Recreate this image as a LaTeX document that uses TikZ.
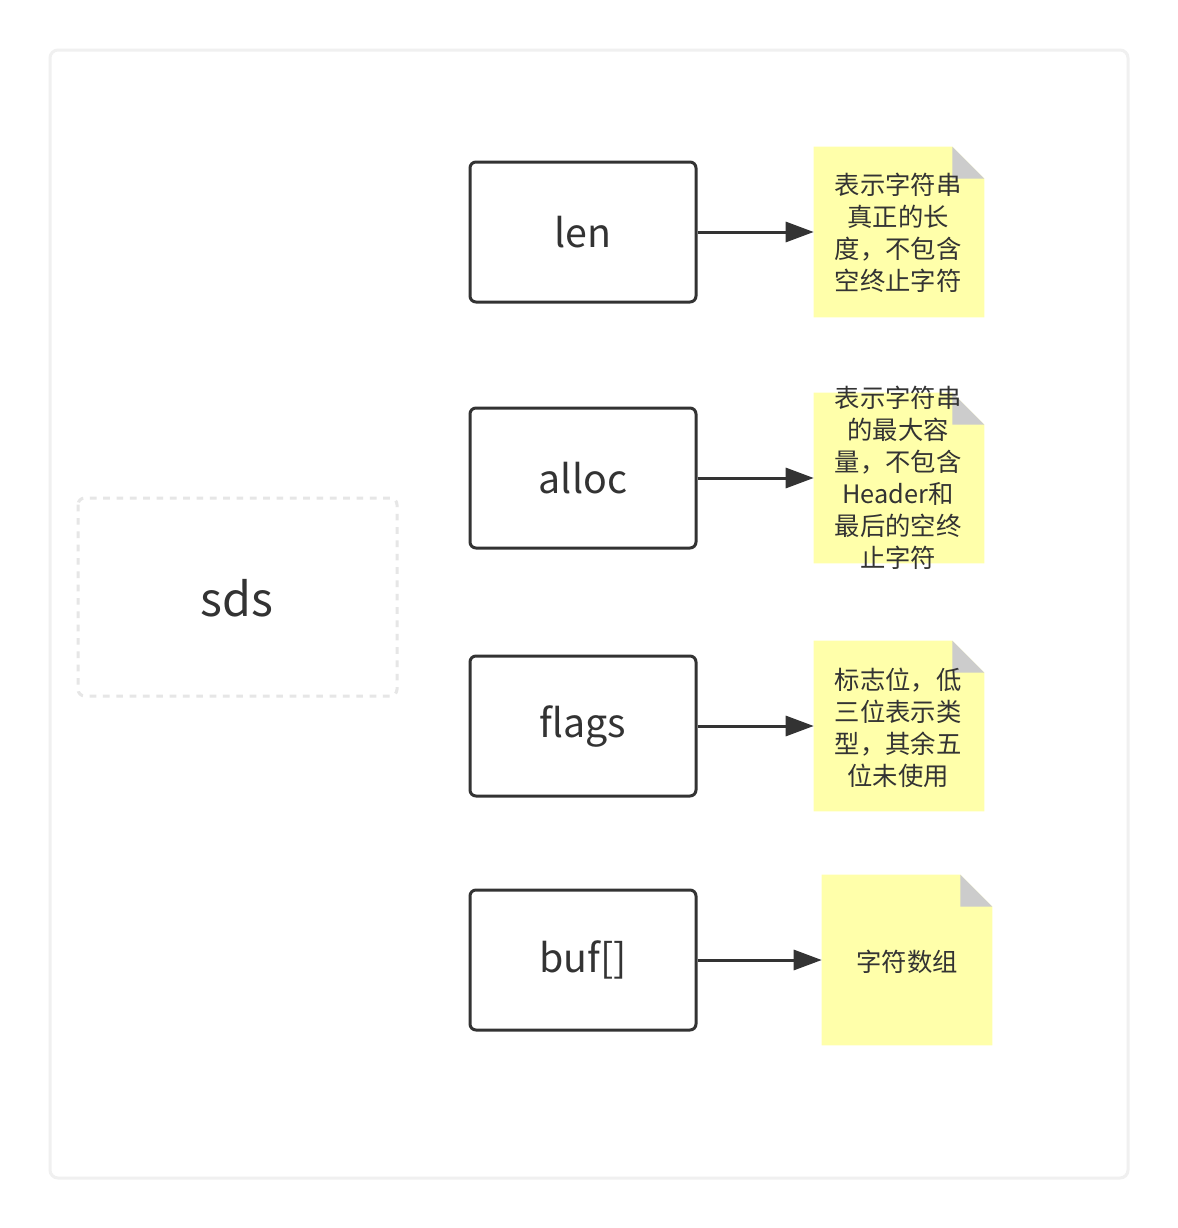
\documentclass[tikz,border=0pt]{standalone}
\usepackage{fontspec}
\setmainfont{Noto Sans CJK SC}
\usetikzlibrary{arrows.meta}
\definecolor{ink}{HTML}{333333}
\definecolor{notey}{HTML}{FFFFAA}
\definecolor{foldgray}{HTML}{CCCCCC}
\definecolor{framegray}{HTML}{F0F0F0}
\definecolor{dashgray}{HTML}{E6E6E6}
\tikzset{
  field/.style={draw=ink, line width=2.25pt, rounded corners=4.5pt, minimum width=169.5pt, minimum height=105pt, text=ink, font=\fontsize{29.5}{35}\selectfont, inner sep=0pt},
  notebox/.style={minimum width=127.5pt, minimum height=127.5pt, inner sep=0pt},
  notetext/.style={text=ink, align=center, font=\fontsize{19}{24}\selectfont, inner sep=0pt},
  link/.style={draw=ink, line width=2.25pt, -{Triangle[length=21pt,width=15pt]}},
}
\newcommand{\drawnote}[1]{%
  \fill[notey] (#1.south west) -- (#1.north west) -- ([xshift=-24pt]#1.north east) -- ([yshift=-24pt]#1.north east) -- (#1.south east) -- cycle;
  \fill[foldgray] ([xshift=-24pt]#1.north east) -- ([xshift=-24pt,yshift=-24pt]#1.north east) -- ([yshift=-24pt]#1.north east) -- cycle;
}
\begin{document}
\begin{tikzpicture}[x=0.75pt,y=-0.75pt]
\useasboundingbox (0,0) rectangle (1178,1228);
\fill[white] (0,0) rectangle (1178,1228);
\draw[framegray, line width=2.25pt, rounded corners=6pt] (50,50) rectangle (1128,1178);
\draw[dashgray, line width=2.25pt, dash pattern=on 5pt off 5pt, rounded corners=5pt] (78,498) rectangle (397,696);
\node[text=ink, font=\fontsize{35}{42}\selectfont] (sds) at (237,598) {sds};

\node[field] (len) at (583,232) {len};
\node[field] (alloc) at (583,478) {alloc};
\node[field] (flags) at (583,726) {flags};
\node[field] (buf) at (583,960) {buf[]};

\node[notebox] (n1) at (899,232) {};
\node[notebox] (n2) at (899,478) {};
\node[notebox] (n3) at (899,726) {};
\node[notebox] (n4) at (907,960) {};
\drawnote{n1}
\drawnote{n2}
\drawnote{n3}
\drawnote{n4}

\node[notetext] (t1) at (898,233) {表示字符串\\真正的长\\度，不包含\\空终止字符};
\node[notetext] (t2) at (898,478) {表示字符串\\的最大容\\量，不包含\\Header和\\最后的空终\\止字符};
\node[notetext] (t3) at (898,728) {标志位，低\\三位表示类\\型，其余五\\位未使用};
\node[notetext] (t4) at (907,962) {字符数组};

\draw[link] (len.east) -- (n1.west);
\draw[link] (alloc.east) -- (n2.west);
\draw[link] (flags.east) -- (n3.west);
\draw[link] (buf.east) -- (n4.west);
\end{tikzpicture}
\end{document}
